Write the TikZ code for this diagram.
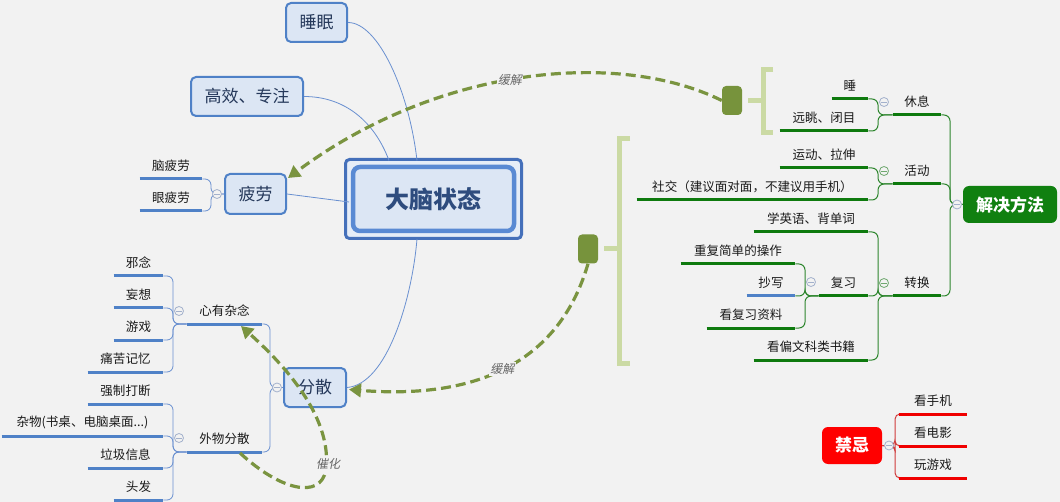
\documentclass[tikz,border=0pt]{standalone}
\usepackage{fontspec}
\newfontfamily\cjk{Noto Sans CJK SC}
\newfontfamily\cjkit[FakeSlant=0.2]{Noto Sans CJK SC}
\usetikzlibrary{arrows.meta,calc}
\newdimen\pxu \pxu=0.75pt
\definecolor{bg}{HTML}{F2F2F2}
\definecolor{boxfill}{HTML}{DCE6F4}
\definecolor{boxline}{HTML}{4F81C7}
\definecolor{cframeline}{HTML}{4570BA}
\definecolor{cboxline}{HTML}{5A8AD3}
\definecolor{thinblue}{HTML}{6A90D0}
\definecolor{ulblue}{HTML}{4F81C7}
\definecolor{ulgreen}{HTML}{0E7A0E}
\definecolor{thingreen}{HTML}{2E862E}
\definecolor{solgreen}{HTML}{108010}
\definecolor{ulred}{HTML}{F00000}
\definecolor{thinred}{HTML}{D03A3A}
\definecolor{olive}{HTML}{77933C}
\definecolor{dashol}{HTML}{7A9440}
\definecolor{brkcol}{HTML}{CBDAA4}
\definecolor{txt}{HTML}{1A1A1A}
\definecolor{boxtxt}{HTML}{25385A}
\definecolor{ctxt}{HTML}{2E4C7E}
\definecolor{foldc}{HTML}{A3B1CC}
\definecolor{foldg}{HTML}{6FA86F}
\tikzset{
  every node/.style={font=\cjk},
  cframe/.style={draw=cframeline, fill=boxfill!70!white, line width=3\pxu, rounded corners=4\pxu, inner sep=0pt},
  cbox/.style={draw=cboxline, fill=boxfill, line width=4.5\pxu, rounded corners=7\pxu, inner sep=0pt, text=ctxt, font=\cjk\bfseries\fontsize{18}{20}\selectfont},
  topbox/.style={draw=boxline, fill=boxfill, line width=2\pxu, rounded corners=5\pxu, text=boxtxt, font=\cjk\fontsize{12.75}{14}\selectfont, inner sep=0pt},
  leaf/.style={text=txt, font=\cjk\fontsize{9.4}{11}\selectfont, inner sep=0pt, minimum height=26\pxu, anchor=south},
  solbox/.style={fill=solgreen, text=white, font=\cjk\bfseries\fontsize{12.75}{14}\selectfont, rounded corners=6\pxu, inner sep=0pt},
  jinbox/.style={fill=red, text=white, font=\cjk\bfseries\fontsize{12.75}{14}\selectfont, rounded corners=6\pxu, inner sep=0pt},
  sumbox/.style={fill=olive, rounded corners=4\pxu, inner sep=0pt, minimum width=20\pxu, minimum height=29\pxu},
  ulB/.style={draw=ulblue, line width=3\pxu},
  ulG/.style={draw=ulgreen, line width=3\pxu},
  ulR/.style={draw=ulred, line width=3\pxu},
  thinB/.style={draw=thinblue, line width=0.8\pxu, rounded corners=6\pxu},
  thinG/.style={draw=thingreen, line width=1\pxu, rounded corners=6\pxu},
  thinR/.style={draw=thinred, line width=1\pxu, rounded corners=5\pxu},
  brkst/.style={draw=brkcol, line width=5\pxu},
  dashA/.style={draw=dashol, line width=3.2\pxu, dash pattern=on 7.5pt off 3.75pt, -{Triangle[length=9pt,width=10pt]}},
  lbl/.style={font=\cjkit\fontsize{9}{10}\selectfont, text=black!60, fill=bg, inner sep=1pt},
  fold/.style={circle, draw=#1, fill=bg, line width=0.6pt, minimum size=9\pxu, inner sep=0pt,
    path picture={\draw[#1, line width=0.6pt] ([xshift=-2pt]path picture bounding box.center) -- ([xshift=2pt]path picture bounding box.center);}},
  fold/.default=foldc
}
\begin{document}
\begin{tikzpicture}[x=0.75pt,y=-0.75pt]
\fill[bg] (0,0) rectangle (1060,502);
\useasboundingbox (0,0) rectangle (1060,502);

% ---------- central and main nodes
\node[cframe, minimum width=176\pxu, minimum height=79\pxu] (cf) at (433.5,199) {};
\node[cbox, minimum width=161\pxu, minimum height=64\pxu] (c) at (cf.center) {大脑状态};
\node[topbox, minimum width=61\pxu, minimum height=39\pxu] (sleep) at (316.5,22.5) {睡眠};
\node[topbox, minimum width=112\pxu, minimum height=39\pxu] (eff) at (247,96.5) {高效、专注};
\node[topbox, minimum width=61\pxu, minimum height=40\pxu] (fat) at (255.5,194) {疲劳};
\node[topbox, minimum width=62\pxu, minimum height=39\pxu] (fen) at (315,387.5) {分散};

\draw[thinB] (sleep.east) .. controls +(30,0) and +(-8,-70) .. ($(cf.north)+(-16.5,2.5)$);
\draw[thinB] (eff.east) .. controls +(40,0) and +(-15,-40) .. ($(cf.north)+(-44.5,2.5)$);
\draw[thinB] (fat.east) -- ($(cf.west)+(5,3)$);
\draw[thinB] (fen.east) .. controls +(40,-3) and +(-5,60) .. ($(cf.south)+(-16.5,-1)$);

% ---------- blue leaves
\node[leaf, minimum width=62\pxu] (f1) at (171,179) {脑疲劳};
\node[leaf, minimum width=62\pxu] (f2) at (171,211) {眼疲劳};
\node[leaf, minimum width=75\pxu] (xin) at (224.5,324) {心有杂念};
\node[leaf, minimum width=75\pxu] (wai) at (224.5,452) {外物分散};
\node[leaf, minimum width=49\pxu] (x1) at (138.5,276) {邪念};
\node[leaf, minimum width=49\pxu] (x2) at (138.5,308) {妄想};
\node[leaf, minimum width=49\pxu] (x3) at (138.5,340) {游戏};
\node[leaf, minimum width=75\pxu] (x4) at (125.5,372) {痛苦记忆};
\node[leaf, minimum width=75\pxu] (w1) at (125.5,404) {强制打断};
\node[leaf, minimum width=161\pxu] (w2) at (82.5,436) {杂物(书桌、电脑桌面...)};
\node[leaf, minimum width=75\pxu] (w3) at (125.5,468) {垃圾信息};
\node[leaf, minimum width=49\pxu] (w4) at (138.5,500) {头发};

\coordinate (jFat) at (211,194);
\coordinate (jXin) at (173,324);
\coordinate (jWai) at (173,452);
\coordinate (jFen) at (270,387.5);
\foreach \n in {f1,f2} \draw[thinB] (\n.south east) -| (jFat) -- (fat.west);
\foreach \n in {x1,x2,x3,x4} \draw[thinB] (\n.south east) -| (jXin) -- (xin.south west);
\foreach \n in {w1,w2,w3,w4} \draw[thinB] (\n.south east) -| (jWai) -- (wai.south west);
\foreach \n in {xin,wai} \draw[thinB] (\n.south east) -| (jFen) -- (fen.west);

% ---------- green part
\node[solbox, minimum width=94\pxu, minimum height=37\pxu] (sol) at (1010,204.5) {解决方法};
\node[leaf, minimum width=48\pxu] (rest) at (917,115) {休息};
\node[leaf, minimum width=48\pxu] (act) at (917,184) {活动};
\node[leaf, minimum width=48\pxu] (chg) at (917,296) {转换};
\node[leaf, minimum width=36\pxu] (r1) at (850,99) {睡};
\node[leaf, minimum width=88\pxu] (r2) at (824,131) {远眺、闭目};
\node[leaf, minimum width=88\pxu] (a1) at (824,168) {运动、拉伸};
\node[leaf, minimum width=231\pxu] (a2) at (752.5,200) {社交（建议面对面，不建议用手机）};
\node[leaf, minimum width=114\pxu] (c1) at (811,232) {学英语、背单词};
\node[leaf, minimum width=49\pxu] (rev) at (843.5,296) {复习};
\node[leaf, minimum width=114\pxu] (c3) at (811,360) {看偏文科类书籍};
\node[leaf, minimum width=114\pxu] (v1) at (738,264) {重复简单的操作};
\node[leaf, minimum width=48\pxu] (v2) at (771,296) {抄写};
\node[leaf, minimum width=88\pxu] (v3) at (751,328) {看复习资料};

\coordinate (jSol) at (950,204.5);
\coordinate (jRest) at (878,115);
\coordinate (jAct) at (878,184);
\coordinate (jChg) at (878,296);
\coordinate (jRev) at (805,296);
\foreach \n in {rest,act,chg} \draw[thinG] (\n.south east) -| (jSol) -- (sol.west);
\foreach \n in {r1,r2} \draw[thinG] (\n.south east) -| (jRest) -- (rest.south west);
\foreach \n in {a1,a2} \draw[thinG] (\n.south east) -| (jAct) -- (act.south west);
\foreach \n in {c1,rev,c3} \draw[thinG] (\n.south east) -| (jChg) -- (chg.south west);
\foreach \n in {v1,v2,v3} \draw[thinG] (\n.south east) -| (jRev) -- (rev.south west);

% ---------- red part
\node[jinbox, minimum width=60\pxu, minimum height=37\pxu] (jin) at (852,445.5) {禁忌};
\node[leaf, minimum width=68\pxu] (j1) at (933,414) {看手机};
\node[leaf, minimum width=68\pxu] (j2) at (933,446) {看电影};
\node[leaf, minimum width=68\pxu] (j3) at (933,478) {玩游戏};
\coordinate (jJin) at (895,445.5);
\foreach \n in {j1,j2,j3} \draw[thinR] (jin.east) -- (jJin) |- (\n.south west);

% ---------- underlines
\foreach \n in {f1,f2,xin,wai,x1,x2,x3,x4,w1,w2,w3,w4,v2} \draw[ulB] (\n.south west) -- (\n.south east);
\foreach \n in {rest,act,chg,r1,r2,a1,a2,c1,rev,c3,v1,v3} \draw[ulG] (\n.south west) -- (\n.south east);
\foreach \n in {j1,j2,j3} \draw[ulR] (\n.south west) -- (\n.south east);

% ---------- fold markers
\node[fold] (oFat) at (217,194) {};
\node[fold] (oXin) at (179,311) {};
\node[fold] (oWai) at (179,438) {};
\node[fold] (oFen) at (277,387.5) {};
\node[fold] (oRest) at (884,102) {};
\node[fold=foldg] (oAct) at (884,171) {};
\node[fold=foldg] (oChg) at (884,283) {};
\node[fold] (oRev) at (811,282) {};
\node[fold] (oSol) at (957,204.5) {};
\node[fold] (oJin) at (889,445.5) {};

% ---------- summary brackets
\node[sumbox] (sumA) at (732,100.5) {};
\node[sumbox] (sumB) at (588,249) {};
\coordinate (brA) at (763,100.5);
\coordinate (brB) at (619,249);
\draw[brkst] (773,70) -- (763,70) -- (763,133) -- (773,133);
\draw[brkst] (630,139) -- (619,139) -- (619,363) -- (630,363);
\draw[brkst] ($(sumA.east)+(6,0)$) -- (brA);
\draw[brkst] ($(sumB.east)+(6,0)$) -- (brB);

% ---------- dashed relations
\draw[dashA] (sumA.west) .. controls (620,50) and (440,65) .. node[lbl, pos=0.53] (lA) {缓解} ($(fat.north east)+(1,5)$);
\draw[dashA] (sumB.south) .. controls (560,360) and (480,400) .. node[lbl, pos=0.52] (lB) {缓解} ($(fen.east)+(2,2)$);
\draw[dashA] ($(wai.south)+(15.5,1)$) .. controls (280,490) and (320,500) .. (326,470) .. controls (332,420) and (290,370) .. ($(xin.south)+(16.5,2)$);
\node[lbl] (lC) at (328,464) {催化};
\end{tikzpicture}
\end{document}
